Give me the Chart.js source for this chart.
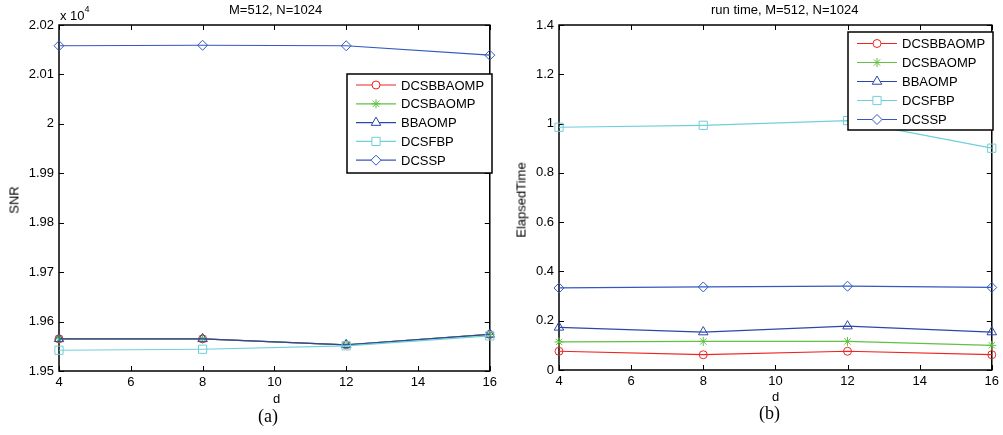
<!DOCTYPE html>
<html>
<head>
<meta charset="utf-8">
<script src="https://cdn.jsdelivr.net/npm/chart.js@4"></script>
<style>
  body { margin: 0; background: #fff; width: 1003px; height: 435px; position: relative; overflow: hidden; }
  canvas { position: absolute; top: 0; }
  .lbl { position: absolute; font-family: "Liberation Sans", Arial, sans-serif; font-size: 13px; color: #000; white-space: nowrap; }
  .cap { position: absolute; font-family: "Liberation Serif", "DejaVu Serif", serif; font-size: 18px; color: #000; }
  .rot { transform: translate(-50%, -50%) rotate(-90deg); }
</style>
</head>
<body>
<canvas id="snrChart" width="501" height="435" style="left:0"></canvas>
<canvas id="timeChart" width="503" height="435" style="left:500px"></canvas>

<div class="lbl" style="left:229px;top:2px">M=512, N=1024</div>
<div class="lbl" style="left:60px;top:7px">x 10<sup style="font-size:9px;position:relative;top:-3px">4</sup></div>
<div class="lbl rot" style="left:14px;top:200px">SNR</div>
<div class="lbl" style="left:273px;top:391px">d</div>
<div class="cap" style="left:258px;top:406px">(a)</div>

<div class="lbl" style="left:711px;top:2px">run time, M=512, N=1024</div>
<div class="lbl rot" style="left:521px;top:200px">ElapsedTime</div>
<div class="lbl" style="left:772px;top:389px">d</div>
<div class="cap" style="left:759px;top:403px">(b)</div>

<script>
// x values (d)
const dValues = [4, 8, 12, 16];
const seriesNames = ['DCSBBAOMP', 'DCSBAOMP', 'BBAOMP', 'DCSFBP', 'DCSSP'];

// SNR values (actual, shown as x 10^4)
const snrDCSBBAOMP = [19565, 19565, 19553, 19574];
const snrDCSBAOMP  = [19565, 19565, 19553, 19574];
const snrBBAOMP    = [19565, 19565, 19553, 19574];
const snrDCSFBP    = [19542, 19544, 19551, 19571];
const snrDCSSP     = [20158, 20159, 20158, 20139];

// elapsed time values
const timeDCSBBAOMP = [0.076, 0.062, 0.076, 0.062];
const timeDCSBAOMP  = [0.114, 0.116, 0.116, 0.100];
const timeBBAOMP    = [0.173, 0.154, 0.178, 0.154];
const timeDCSFBP    = [0.985, 0.993, 1.012, 0.900];
const timeDCSSP     = [0.333, 0.337, 0.340, 0.335];

// styles
const colors  = ['#f02424', '#62c043', '#2c47a8', '#6fd0da', '#3358c0'];
const markers = ['circle', 'star', 'triangle', 'rect', 'rectRot'];
const radii   = [4, 4.5, 5.5, 5.8, 5];

const FONT = { family: '"Liberation Sans", Arial, sans-serif', size: 13 };

function buildDatasets(seriesList) {
    return seriesList.map((vals, i) => ({
        label: seriesNames[i],
        data: dValues.map((d, k) => ({ x: d, y: vals[k] })),
        borderColor: colors[i],
        backgroundColor: colors[i],
        borderWidth: 1.2,
        pointStyle: markers[i],
        pointRadius: radii[i],
        pointBorderWidth: 1,
        pointBorderColor: colors[i],
        pointBackgroundColor: 'rgba(0,0,0,0)',
        tension: 0,
        clip: false,
        order: -i   // later series drawn on top, like matlab
    }));
}

// frame with inward ticks on all four sides, like matlab axes
const framePlugin = {
    id: 'frame',
    beforeDatasetsDraw(chart) {
        const { ctx, chartArea: a, scales } = chart;
        ctx.save();
        ctx.strokeStyle = '#000';
        ctx.lineWidth = 1;
        const len = 5;
        ctx.beginPath();
        scales.x.ticks.forEach(t => {
            const px = Math.round(scales.x.getPixelForValue(t.value)) + 0.5;
            ctx.moveTo(px, a.bottom); ctx.lineTo(px, a.bottom - len);
            ctx.moveTo(px, a.top); ctx.lineTo(px, a.top + len);
        });
        scales.y.ticks.forEach(t => {
            const py = Math.round(scales.y.getPixelForValue(t.value)) + 0.5;
            ctx.moveTo(a.left, py); ctx.lineTo(a.left + len, py);
            ctx.moveTo(a.right, py); ctx.lineTo(a.right - len, py);
        });
        ctx.stroke();
        ctx.lineWidth = 1.5;
        ctx.strokeRect(a.left, a.top, a.right - a.left, a.bottom - a.top);
        ctx.restore();
    }
};

// legend box drawn inside the plot area
const boxLegendPlugin = {
    id: 'boxLegend',
    afterDraw(chart, args, opts) {
        const { ctx } = chart;
        const b = opts.box;
        ctx.save();
        ctx.fillStyle = '#fff';
        ctx.fillRect(b.x, b.y, b.w, b.h);
        ctx.strokeStyle = '#000';
        ctx.lineWidth = 1.5;
        ctx.strokeRect(b.x, b.y, b.w, b.h);
        ctx.font = `${FONT.size}px ${FONT.family}`;
        ctx.textBaseline = 'middle';
        chart.data.datasets.forEach((ds, i) => {
            const y = b.y + opts.firstRow + i * opts.rowStep;
            const x0 = b.x + 9;
            const x1 = x0 + 40;
            ctx.strokeStyle = ds.borderColor;
            ctx.lineWidth = 1.2;
            ctx.beginPath();
            ctx.moveTo(x0, y); ctx.lineTo(x1, y);
            ctx.stroke();
            ctx.lineWidth = 1;
            ctx.fillStyle = '#fff';
            Chart.helpers.drawPoint(ctx, {
                pointStyle: ds.pointStyle,
                radius: ds.pointRadius,
                rotation: 0,
                borderWidth: 1
            }, (x0 + x1) / 2, y);
            ctx.fillStyle = '#000';
            ctx.fillText(ds.label, x1 + 5, y + 1);
        });
        ctx.restore();
    }
};

function makeChart(id, datasets, yOpts, padRight, xHeight, legend) {
    const ctx = document.getElementById(id).getContext('2d');
    return new Chart(ctx, {
        type: 'line',
        data: { datasets },
        plugins: [framePlugin, boxLegendPlugin],
        options: {
            responsive: false,
            animation: false,
            devicePixelRatio: 1,
            layout: { padding: { top: 25, right: padRight, left: 0, bottom: 0 } },
            plugins: {
                legend: { display: false },
                tooltip: { enabled: false },
                boxLegend: legend
            },
            scales: {
                x: {
                    type: 'linear',
                    min: 4, max: 16,
                    ticks: { stepSize: 2, color: '#000', font: FONT, padding: 4, maxRotation: 0 },
                    grid: { display: false, drawTicks: false, tickLength: 0 },
                    border: { display: false },
                    afterFit: s => { s.height = xHeight; }
                },
                y: Object.assign({
                    grid: { display: false, drawTicks: false, tickLength: 0 },
                    border: { display: false },
                    afterFit: s => { s.width = 59; }
                }, yOpts)
            }
        }
    });
}

window.addEventListener('DOMContentLoaded', () => {
    makeChart('snrChart',
        buildDatasets([snrDCSBBAOMP, snrDCSBAOMP, snrBBAOMP, snrDCSFBP, snrDCSSP]),
        {
            min: 19500, max: 20200,
            ticks: {
                stepSize: 100, color: '#000', font: FONT, padding: 5,
                callback: v => String(parseFloat((v / 1e4).toFixed(2)))
            }
        },
        3, 64,
        { box: { x: 347, y: 74, w: 145, h: 99 }, firstRow: 11, rowStep: 18.8 });

    makeChart('timeChart',
        buildDatasets([timeDCSBBAOMP, timeDCSBAOMP, timeBBAOMP, timeDCSFBP, timeDCSSP]),
        {
            min: 0, max: 1.4,
            ticks: {
                stepSize: 0.2, color: '#000', font: FONT, padding: 5,
                callback: v => String(parseFloat(v.toFixed(1)))
            }
        },
        9, 65,
        { box: { x: 348, y: 32, w: 145, h: 98 }, firstRow: 11.5, rowStep: 19 });
});
</script>
</body>
</html>
